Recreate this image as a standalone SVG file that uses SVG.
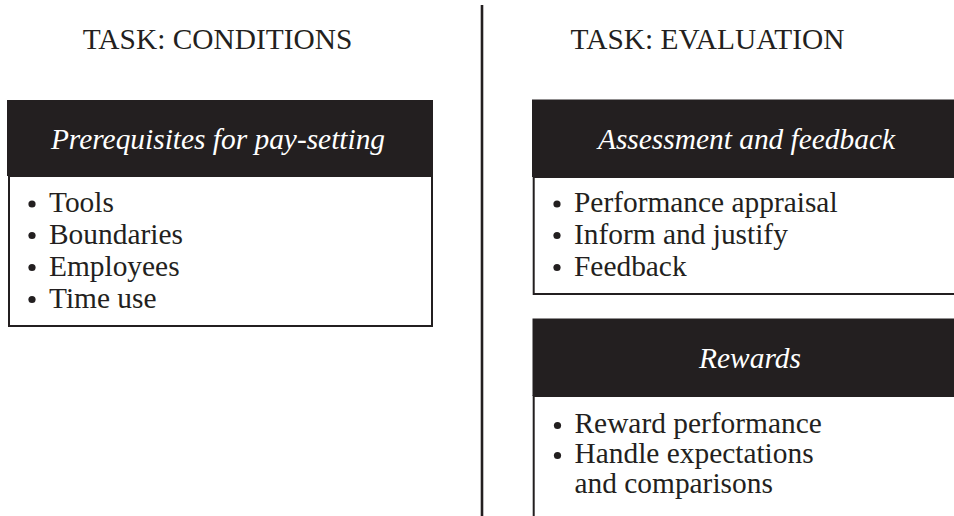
<svg xmlns="http://www.w3.org/2000/svg" width="954" height="516" viewBox="0 0 954 516">
<style>
text{font-family:"Liberation Serif","Times New Roman",serif;font-size:29.4px;fill:#231f20}
.ttl{text-anchor:middle}
.hd{fill:#231f20}
.hdt{fill:#ffffff;font-style:italic;text-anchor:middle}
.body{fill:#ffffff;stroke:#231f20;stroke-width:2}
.dot{fill:#231f20}
</style>
<rect width="954" height="516" fill="#ffffff"/>
<g id="titles">
<text class="ttl" x="217.5" y="49">TASK: CONDITIONS</text>
<text class="ttl" x="707.5" y="49">TASK: EVALUATION</text>
</g>
<g id="divider">
<line x1="482" y1="5" x2="482" y2="516" stroke="#231f20" stroke-width="2.6"/>
</g>
<g id="node-prerequisites">
<rect class="hd" x="7" y="100" width="426" height="76"/>
<text class="hdt" x="218" y="149">Prerequisites for pay-setting</text>
<rect class="body" x="9" y="176" width="423" height="150"/>
<circle class="dot" cx="32" cy="204" r="3.6"/><text x="49" y="212">Tools</text>
<circle class="dot" cx="32" cy="235.5" r="3.6"/><text x="49" y="243.5">Boundaries</text>
<circle class="dot" cx="32" cy="267.5" r="3.6"/><text x="49" y="275.5">Employees</text>
<circle class="dot" cx="32" cy="299.5" r="3.6"/><text x="49" y="307.5">Time use</text>
</g>
<g id="node-assessment">
<rect class="hd" x="532" y="99.5" width="430" height="77.5"/>
<text class="hdt" x="746.5" y="148.5">Assessment and feedback</text>
<rect class="body" x="533.7" y="177" width="430" height="117"/>
<circle class="dot" cx="557" cy="204" r="3.6"/><text x="574" y="212">Performance appraisal</text>
<circle class="dot" cx="557" cy="235.5" r="3.6"/><text x="574" y="243.5">Inform and justify</text>
<circle class="dot" cx="557" cy="267.5" r="3.6"/><text x="574" y="275.5">Feedback</text>
</g>
<g id="node-rewards">
<rect class="hd" x="532.5" y="318.5" width="430" height="77.5"/>
<text class="hdt" x="750" y="368">Rewards</text>
<rect class="body" x="533.7" y="396" width="430" height="140"/>
<circle class="dot" cx="557.5" cy="425.5" r="3.6"/><text x="574.5" y="433">Reward performance</text>
<circle class="dot" cx="557.5" cy="455.5" r="3.6"/><text x="574.5" y="463">Handle expectations</text>
<text x="574.5" y="493">and comparisons</text>
</g>
</svg>
